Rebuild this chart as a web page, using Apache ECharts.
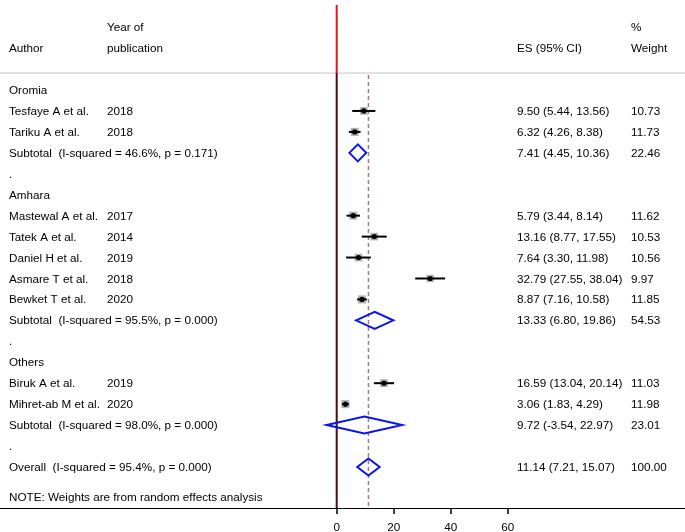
<!DOCTYPE html>
<html><head><meta charset="utf-8">
<script src="https://cdn.jsdelivr.net/npm/echarts@6/dist/echarts.min.js"></script>
<style>html,body{margin:0;padding:0;background:#fff}#c{width:685px;height:532px}</style>
</head><body><div id="c"></div>
<script>
// ---- data ----
const regions = ['Oromia', 'Amhara', 'Others'];
const authors = ['Tesfaye A et al.', 'Tariku A et al.', 'Mastewal A et al.', 'Tatek A et al.', 'Daniel H et al.', 'Asmare T et al.', 'Bewket T et al.', 'Biruk A et al.', 'Mihret-ab M et al.'];
const studyRegion = ['Oromia', 'Oromia', 'Amhara', 'Amhara', 'Amhara', 'Amhara', 'Amhara', 'Others', 'Others'];
const years = [2018, 2018, 2017, 2014, 2019, 2018, 2020, 2019, 2020];
const esVals = [9.50, 6.32, 5.79, 13.16, 7.64, 32.79, 8.87, 16.59, 3.06];
const loVals = [5.44, 4.26, 3.44, 8.77, 3.30, 27.55, 7.16, 13.04, 1.83];
const hiVals = [13.56, 8.38, 8.14, 17.55, 11.98, 38.04, 10.58, 20.14, 4.29];
const weights = [10.73, 11.73, 11.62, 10.53, 10.56, 9.97, 11.85, 11.03, 11.98];
const subES = [7.41, 13.33, 9.72];
const subLo = [4.45, 6.80, -3.54];
const subHi = [10.36, 19.86, 22.97];
const subW = [22.46, 54.53, 23.01];
const subI2 = ['46.6%', '95.5%', '98.0%'];
const subP = ['0.171', '0.000', '0.000'];
const overallES = 11.14, overallLo = 7.21, overallHi = 15.07, overallW = 100.00;
const overallI2 = '95.4%', overallP = '0.000';
const nullValue = 0;
const xTicks = [0, 20, 40, 60];
const note = 'NOTE: Weights are from random effects analysis';

// ---- layout ----
const W = 685;
const xMin = -118.14, xMax = 122.21;
const yMin = -4.298, yMax = 19.96;
const colAuthor = 9, colYear = 107, colES = 517, colW = 631;
const FONT = '11.7px "Liberation Sans", Arial, sans-serif';

function fmt(e, l, h) { return e.toFixed(2) + ' (' + l.toFixed(2) + ', ' + h.toFixed(2) + ')'; }

const textRows = [];
const studyMarks = [];
const diamondMarks = [];
textRows.push({ row: -3, y: 'Year of', w: '%' });
textRows.push({ row: -2, a: 'Author', y: 'publication', es: 'ES (95% CI)', w: 'Weight' });
let r = 0;
regions.forEach((reg, gi) => {
  textRows.push({ row: r, a: reg }); r++;
  studyRegion.forEach((sr, i) => {
    if (sr === reg) {
      textRows.push({ row: r, a: authors[i], y: String(years[i]), es: fmt(esVals[i], loVals[i], hiVals[i]), w: weights[i].toFixed(2) });
      studyMarks.push([esVals[i], loVals[i], hiVals[i], r, weights[i]]);
      r++;
    }
  });
  textRows.push({ row: r, a: 'Subtotal  (I-squared = ' + subI2[gi] + ', p = ' + subP[gi] + ')', es: fmt(subES[gi], subLo[gi], subHi[gi]), w: subW[gi].toFixed(2) });
  diamondMarks.push([subES[gi], subLo[gi], subHi[gi], r]);
  r++;
  textRows.push({ row: r, a: '.' }); r++;
});
textRows.push({ row: r, a: 'Overall  (I-squared = ' + overallI2 + ', p = ' + overallP + ')', es: fmt(overallES, overallLo, overallHi), w: overallW.toFixed(2) });
diamondMarks.push([overallES, overallLo, overallHi, r]);
const noteRow = r + 1.43;
textRows.push({ row: noteRow, a: note });
const headerLineRow = -0.81;
const topRow = -4.06;

const chart = echarts.init(document.getElementById('c'), null, { renderer: 'canvas' });

function txt(x, y, s) {
  return { type: 'text', style: { x: x, y: y + 0.8, text: s, font: FONT, fill: '#000', textAlign: 'left', textVerticalAlign: 'middle' } };
}

chart.setOption({
  animation: false,
  backgroundColor: '#fff',
  grid: { left: 0, right: 0, top: 0, bottom: 24, containLabel: false, outerBoundsMode: 'none' },
  xAxis: {
    type: 'value', min: xMin, max: xMax,
    splitLine: { show: false },
    axisLine: { show: true, onZero: false, lineStyle: { color: '#000', width: 1 } },
    axisTick: { show: true, customValues: xTicks, length: 6, lineStyle: { color: '#000', width: 1.5 } },
    axisLabel: { show: true, customValues: xTicks, color: '#000', fontSize: 11.7, fontFamily: '"Liberation Sans", Arial, sans-serif', margin: 14, formatter: v => String(v) }
  },
  yAxis: { type: 'value', inverse: true, min: yMin, max: yMax, show: false, splitLine: { show: false } },
  series: [
    {
      type: 'custom', name: 'refLines', z: 1, clip: false,
      data: [[nullValue, overallES]],
      renderItem: function (params, api) {
        const nx = api.coord([api.value(0), 0])[0];
        const ox = api.coord([api.value(1), 0])[0];
        const yTop = api.coord([0, topRow])[1];
        const yHead = api.coord([0, headerLineRow])[1];
        const yBot = api.coord([0, yMax])[1];
        return {
          type: 'group', children: [
            { type: 'line', shape: { x1: 0, y1: yHead, x2: W, y2: yHead }, style: { stroke: '#c6c6c6', lineWidth: 1 } },
            { type: 'line', shape: { x1: ox, y1: yHead + 2, x2: ox, y2: yBot }, style: { stroke: '#a97a7a', lineWidth: 1.5, lineDash: [4, 3] } },
            { type: 'line', shape: { x1: nx, y1: yTop, x2: nx, y2: yHead }, style: { stroke: '#e8161b', lineWidth: 2 } },
            { type: 'line', shape: { x1: nx, y1: yHead, x2: nx, y2: yBot }, style: { stroke: '#4a1010', lineWidth: 2 } }
          ]
        };
      }
    },
    {
      type: 'custom', name: 'studies', z: 3,
      data: studyMarks,
      renderItem: function (params, api) {
        const e = api.coord([api.value(0), api.value(3)]);
        const l = api.coord([api.value(1), api.value(3)]);
        const h = api.coord([api.value(2), api.value(3)]);
        const s = 8 * Math.sqrt(api.value(4) / 11.5);
        return {
          type: 'group', children: [
            { type: 'rect', shape: { x: e[0] - s / 2, y: e[1] - s / 2, width: s, height: s }, style: { fill: '#b4b4b4' } },
            { type: 'line', shape: { x1: l[0], y1: l[1], x2: h[0], y2: h[1] }, style: { stroke: '#000', lineWidth: 2 } },
            { type: 'circle', shape: { cx: e[0], cy: e[1], r: 2.6 }, style: { fill: '#000' } }
          ]
        };
      }
    },
    {
      type: 'custom', name: 'diamonds', z: 4,
      data: diamondMarks,
      renderItem: function (params, api) {
        const e = api.coord([api.value(0), api.value(3)]);
        const l = api.coord([api.value(1), api.value(3)]);
        const h = api.coord([api.value(2), api.value(3)]);
        const d = 8.5;
        return {
          type: 'polygon',
          shape: { points: [[l[0], l[1]], [e[0], e[1] - d], [h[0], h[1]], [e[0], e[1] + d]] },
          style: { fill: 'none', stroke: '#0a14f0', lineWidth: 2 }
        };
      }
    },
    {
      type: 'custom', name: 'texts', z: 5, clip: false,
      data: textRows.map(t => [0, t.row]),
      renderItem: function (params, api) {
        const t = textRows[params.dataIndex];
        const y = api.coord([0, api.value(1)])[1];
        const ch = [];
        if (t.a) ch.push(txt(colAuthor, y, t.a));
        if (t.y) ch.push(txt(colYear, y, t.y));
        if (t.es) ch.push(txt(colES, y, t.es));
        if (t.w) ch.push(txt(colW, y, t.w));
        return { type: 'group', children: ch };
      }
    }
  ]
});
</script>
</body></html>
